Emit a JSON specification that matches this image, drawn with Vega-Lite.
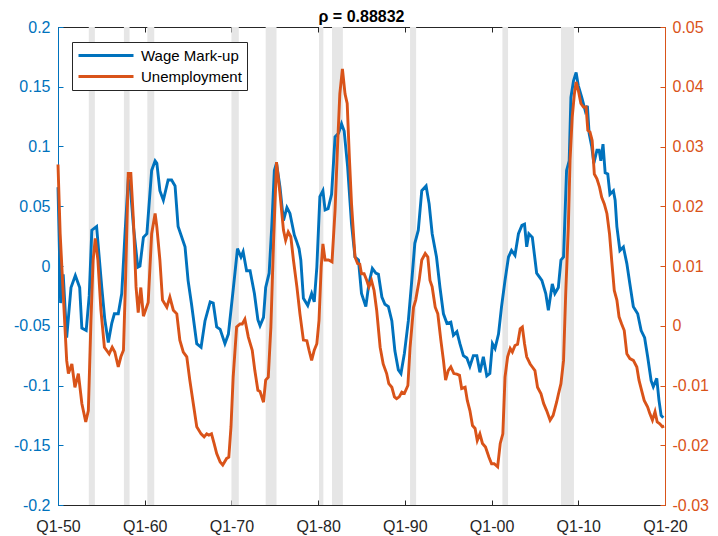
{
  "$schema": "https://vega.github.io/schema/vega-lite/v6.json",
  "width": 607,
  "height": 478,
  "autosize": {"type": "none"},
  "padding": {"left": 58, "top": 27, "right": 53, "bottom": 31},
  "background": "white",
  "title": {"text": "ρ = 0.88832", "fontSize": 16, "fontWeight": "bold", "font": "Liberation Sans", "color": "#000000", "anchor": "middle", "offset": -6},
  "config": {
    "font": "Liberation Sans",
    "view": {"stroke": null},
    "axis": {"grid": false, "labelFont": "Liberation Sans", "labelFontSize": 16, "domainWidth": 1, "tickWidth": 1, "zindex": 1}
  },
  "datasets": {
    "rec": [
      {"s": 1953.55, "e": 1954.25}, {"s": 1957.6, "e": 1958.25}, {"s": 1960.3, "e": 1961.1},
      {"s": 1970.0, "e": 1970.85}, {"s": 1973.95, "e": 1975.2}, {"s": 1980.1, "e": 1980.6},
      {"s": 1981.6, "e": 1982.85}, {"s": 1990.6, "e": 1991.3}, {"s": 2001.25, "e": 2001.9},
      {"s": 2008.0, "e": 2009.5}
    ],
    "wage": [
      {"t":1950.0,"v":0.066},{"t":1950.3,"v":-0.031},{"t":1950.6,"v":-0.007},{"t":1951.0,"v":-0.060},{"t":1951.5,"v":-0.018},{"t":1952.0,"v":-0.008},{"t":1952.5,"v":-0.018},{"t":1952.75,"v":-0.052},{"t":1953.25,"v":-0.054},{"t":1953.6,"v":-0.025},{"t":1953.9,"v":0.030},{"t":1954.45,"v":0.033},{"t":1955.05,"v":-0.018},{"t":1955.4,"v":-0.045},{"t":1955.8,"v":-0.064},{"t":1956.2,"v":-0.048},{"t":1956.5,"v":-0.040},{"t":1956.95,"v":-0.040},{"t":1957.35,"v":-0.023},{"t":1957.75,"v":0.030},{"t":1958.1,"v":0.072},{"t":1958.3,"v":0.070},{"t":1958.7,"v":0.033},{"t":1959.2,"v":-0.001},{"t":1959.45,"v":0.000},{"t":1959.85,"v":0.024},{"t":1960.25,"v":0.027},{"t":1960.8,"v":0.080},{"t":1961.2,"v":0.088},{"t":1961.4,"v":0.086},{"t":1961.75,"v":0.063},{"t":1962.15,"v":0.055},{"t":1962.7,"v":0.072},{"t":1963.1,"v":0.072},{"t":1963.5,"v":0.067},{"t":1963.85,"v":0.033},{"t":1964.65,"v":0.016},{"t":1965.0,"v":-0.012},{"t":1965.4,"v":-0.032},{"t":1966.0,"v":-0.065},{"t":1966.5,"v":-0.068},{"t":1966.95,"v":-0.046},{"t":1967.55,"v":-0.030},{"t":1967.9,"v":-0.031},{"t":1968.3,"v":-0.051},{"t":1968.7,"v":-0.053},{"t":1969.25,"v":-0.065},{"t":1969.65,"v":-0.057},{"t":1970.2,"v":-0.020},{"t":1970.7,"v":0.0145},{"t":1971.1,"v":0.0075},{"t":1971.35,"v":0.012},{"t":1971.75,"v":-0.004},{"t":1972.15,"v":-0.004},{"t":1972.65,"v":-0.023},{"t":1973.05,"v":-0.045},{"t":1973.3,"v":-0.050},{"t":1973.7,"v":-0.043},{"t":1973.95,"v":-0.018},{"t":1974.35,"v":-0.006},{"t":1974.65,"v":0.033},{"t":1974.95,"v":0.080},{"t":1975.2,"v":0.086},{"t":1975.6,"v":0.066},{"t":1976.0,"v":0.038},{"t":1976.4,"v":0.049},{"t":1976.75,"v":0.044},{"t":1977.25,"v":0.026},{"t":1977.5,"v":0.021},{"t":1977.8,"v":0.0145},{"t":1978.0,"v":0.005},{"t":1978.3,"v":-0.027},{"t":1978.8,"v":-0.033},{"t":1979.25,"v":-0.023},{"t":1979.55,"v":-0.030},{"t":1979.85,"v":-0.001},{"t":1980.2,"v":0.058},{"t":1980.55,"v":0.063},{"t":1980.8,"v":0.047},{"t":1981.15,"v":0.048},{"t":1981.55,"v":0.060},{"t":1981.95,"v":0.108},{"t":1982.35,"v":0.111},{"t":1982.7,"v":0.119},{"t":1983.0,"v":0.113},{"t":1983.4,"v":0.083},{"t":1983.85,"v":0.035},{"t":1984.25,"v":0.0075},{"t":1984.65,"v":0.005},{"t":1985.0,"v":-0.023},{"t":1985.5,"v":-0.034},{"t":1985.85,"v":-0.015},{"t":1986.25,"v":-0.002},{"t":1986.65,"v":-0.006},{"t":1986.95,"v":-0.007},{"t":1987.35,"v":-0.026},{"t":1987.7,"v":-0.032},{"t":1988.1,"v":-0.034},{"t":1988.5,"v":-0.046},{"t":1988.85,"v":-0.071},{"t":1989.25,"v":-0.087},{"t":1989.55,"v":-0.090},{"t":1989.95,"v":-0.073},{"t":1990.4,"v":-0.046},{"t":1990.8,"v":-0.012},{"t":1991.15,"v":0.019},{"t":1991.55,"v":0.030},{"t":1991.95,"v":0.063},{"t":1992.45,"v":0.067},{"t":1992.8,"v":0.052},{"t":1993.15,"v":0.027},{"t":1993.65,"v":0.0075},{"t":1994.05,"v":-0.018},{"t":1994.45,"v":-0.040},{"t":1994.85,"v":-0.048},{"t":1995.3,"v":-0.047},{"t":1995.6,"v":-0.058},{"t":1996.0,"v":-0.055},{"t":1996.35,"v":-0.065},{"t":1996.75,"v":-0.075},{"t":1997.15,"v":-0.077},{"t":1997.5,"v":-0.084},{"t":1997.9,"v":-0.075},{"t":1998.3,"v":-0.075},{"t":1998.65,"v":-0.089},{"t":1999.05,"v":-0.076},{"t":1999.45,"v":-0.092},{"t":1999.8,"v":-0.090},{"t":2000.1,"v":-0.065},{"t":2000.4,"v":-0.069},{"t":2000.8,"v":-0.057},{"t":2001.15,"v":-0.034},{"t":2001.55,"v":-0.012},{"t":2001.95,"v":0.0075},{"t":2002.3,"v":0.013},{"t":2002.7,"v":0.009},{"t":2003.1,"v":0.027},{"t":2003.5,"v":0.034},{"t":2003.8,"v":0.035},{"t":2004.05,"v":0.016},{"t":2004.3,"v":0.027},{"t":2004.7,"v":0.024},{"t":2005.2,"v":-0.006},{"t":2005.8,"v":-0.012},{"t":2006.25,"v":-0.023},{"t":2006.55,"v":-0.037},{"t":2007.0,"v":-0.015},{"t":2007.3,"v":-0.023},{"t":2007.7,"v":-0.018},{"t":2008.0,"v":0.005},{"t":2008.3,"v":0.0075},{"t":2008.65,"v":0.080},{"t":2008.95,"v":0.088},{"t":2009.15,"v":0.141},{"t":2009.45,"v":0.155},{"t":2009.75,"v":0.162},{"t":2010.0,"v":0.151},{"t":2010.4,"v":0.141},{"t":2010.8,"v":0.130},{"t":2011.05,"v":0.134},{"t":2011.25,"v":0.111},{"t":2011.55,"v":0.100},{"t":2011.8,"v":0.086},{"t":2012.15,"v":0.097},{"t":2012.4,"v":0.097},{"t":2012.6,"v":0.088},{"t":2012.85,"v":0.102},{"t":2013.1,"v":0.078},{"t":2013.4,"v":0.077},{"t":2013.65,"v":0.060},{"t":2014.05,"v":0.063},{"t":2014.25,"v":0.055},{"t":2014.45,"v":0.033},{"t":2014.8,"v":0.013},{"t":2015.2,"v":0.016},{"t":2015.6,"v":0.002},{"t":2015.95,"v":-0.015},{"t":2016.35,"v":-0.034},{"t":2016.85,"v":-0.040},{"t":2017.25,"v":-0.054},{"t":2017.65,"v":-0.060},{"t":2018.0,"v":-0.076},{"t":2018.4,"v":-0.096},{"t":2018.65,"v":-0.101},{"t":2019.05,"v":-0.094},{"t":2019.3,"v":-0.112},{"t":2019.55,"v":-0.125},{"t":2019.8,"v":-0.127}
    ],
    "unemp": [
      {"t":1950.0,"v":0.027},{"t":1950.25,"v":0.0154},{"t":1950.6,"v":0.0054},{"t":1951.0,"v":-0.0058},{"t":1951.2,"v":-0.0080},{"t":1951.6,"v":-0.0064},{"t":1951.95,"v":-0.0103},{"t":1952.35,"v":-0.0080},{"t":1952.75,"v":-0.0130},{"t":1953.2,"v":-0.0161},{"t":1953.5,"v":-0.0142},{"t":1953.8,"v":0.0009},{"t":1954.05,"v":0.0110},{"t":1954.3,"v":0.0146},{"t":1954.6,"v":0.0110},{"t":1954.95,"v":0.0026},{"t":1955.35,"v":-0.0036},{"t":1955.9,"v":-0.0047},{"t":1956.25,"v":-0.0036},{"t":1956.55,"v":-0.0044},{"t":1956.95,"v":-0.0069},{"t":1957.25,"v":-0.0052},{"t":1957.55,"v":-0.0041},{"t":1957.8,"v":0.0082},{"t":1958.1,"v":0.0255},{"t":1958.4,"v":0.0255},{"t":1958.7,"v":0.0176},{"t":1959.0,"v":0.0065},{"t":1959.25,"v":0.0022},{"t":1959.55,"v":0.0064},{"t":1959.85,"v":0.0016},{"t":1960.4,"v":0.0039},{"t":1960.8,"v":0.0154},{"t":1961.2,"v":0.0188},{"t":1961.4,"v":0.0165},{"t":1961.75,"v":0.0110},{"t":1962.05,"v":0.0043},{"t":1962.55,"v":0.0031},{"t":1962.9,"v":0.0048},{"t":1963.3,"v":0.0026},{"t":1963.7,"v":0.0020},{"t":1964.05,"v":-0.0024},{"t":1964.45,"v":-0.0044},{"t":1964.85,"v":-0.0052},{"t":1965.2,"v":-0.0091},{"t":1965.6,"v":-0.0130},{"t":1966.0,"v":-0.0169},{"t":1966.5,"v":-0.0181},{"t":1966.85,"v":-0.0186},{"t":1967.15,"v":-0.0181},{"t":1967.4,"v":-0.0183},{"t":1967.7,"v":-0.0181},{"t":1968.0,"v":-0.0197},{"t":1968.3,"v":-0.0214},{"t":1968.7,"v":-0.0228},{"t":1969.0,"v":-0.0233},{"t":1969.45,"v":-0.0222},{"t":1969.7,"v":-0.0220},{"t":1969.95,"v":-0.0169},{"t":1970.2,"v":-0.0086},{"t":1970.6,"v":-0.0002},{"t":1971.0,"v":0.0003},{"t":1971.25,"v":0.0003},{"t":1971.55,"v":0.0011},{"t":1971.95,"v":-0.0019},{"t":1972.4,"v":-0.0041},{"t":1972.7,"v":-0.0075},{"t":1973.05,"v":-0.0108},{"t":1973.3,"v":-0.0110},{"t":1973.7,"v":-0.0128},{"t":1973.95,"v":-0.0091},{"t":1974.25,"v":-0.0086},{"t":1974.55,"v":-0.0002},{"t":1974.85,"v":0.0137},{"t":1975.2,"v":0.0274},{"t":1975.6,"v":0.0221},{"t":1976.0,"v":0.0160},{"t":1976.25,"v":0.0143},{"t":1976.55,"v":0.0157},{"t":1976.85,"v":0.0149},{"t":1977.15,"v":0.0110},{"t":1977.55,"v":0.0065},{"t":1977.9,"v":0.0020},{"t":1978.3,"v":-0.0024},{"t":1978.7,"v":-0.0025},{"t":1978.95,"v":-0.0041},{"t":1979.25,"v":-0.0058},{"t":1979.55,"v":-0.0041},{"t":1979.85,"v":-0.0030},{"t":1980.1,"v":0.0009},{"t":1980.35,"v":0.0098},{"t":1980.55,"v":0.0137},{"t":1980.8,"v":0.0110},{"t":1981.2,"v":0.0110},{"t":1981.6,"v":0.0107},{"t":1981.95,"v":0.0193},{"t":1982.25,"v":0.0305},{"t":1982.5,"v":0.0388},{"t":1982.8,"v":0.0430},{"t":1983.1,"v":0.0388},{"t":1983.35,"v":0.0372},{"t":1983.6,"v":0.0282},{"t":1983.85,"v":0.0204},{"t":1984.25,"v":0.0115},{"t":1984.55,"v":0.0104},{"t":1984.8,"v":0.0103},{"t":1985.0,"v":0.0087},{"t":1985.3,"v":0.0087},{"t":1985.6,"v":0.0076},{"t":1985.85,"v":0.0065},{"t":1986.15,"v":0.0076},{"t":1986.45,"v":0.0059},{"t":1986.75,"v":0.0026},{"t":1987.15,"v":-0.0036},{"t":1987.5,"v":-0.0064},{"t":1987.9,"v":-0.0080},{"t":1988.15,"v":-0.0097},{"t":1988.5,"v":-0.0103},{"t":1988.8,"v":-0.0119},{"t":1989.05,"v":-0.0122},{"t":1989.35,"v":-0.0119},{"t":1989.65,"v":-0.0111},{"t":1989.95,"v":-0.0113},{"t":1990.35,"v":-0.0100},{"t":1990.6,"v":-0.0036},{"t":1991.0,"v":0.0031},{"t":1991.25,"v":0.0043},{"t":1991.65,"v":0.0076},{"t":1991.95,"v":0.0110},{"t":1992.35,"v":0.0121},{"t":1992.65,"v":0.0115},{"t":1992.9,"v":0.0076},{"t":1993.15,"v":0.0065},{"t":1993.5,"v":0.0031},{"t":1993.8,"v":0.0020},{"t":1994.15,"v":-0.0024},{"t":1994.45,"v":-0.0058},{"t":1994.7,"v":-0.0091},{"t":1995.0,"v":-0.0075},{"t":1995.3,"v":-0.0069},{"t":1995.65,"v":-0.0080},{"t":1996.0,"v":-0.0081},{"t":1996.3,"v":-0.0083},{"t":1996.55,"v":-0.0105},{"t":1996.95,"v":-0.0103},{"t":1997.2,"v":-0.0125},{"t":1997.5,"v":-0.0142},{"t":1997.8,"v":-0.0167},{"t":1998.1,"v":-0.0172},{"t":1998.35,"v":-0.0192},{"t":1998.65,"v":-0.0181},{"t":1998.95,"v":-0.0197},{"t":1999.3,"v":-0.0203},{"t":1999.7,"v":-0.0220},{"t":2000.0,"v":-0.0231},{"t":2000.3,"v":-0.0231},{"t":2000.7,"v":-0.0236},{"t":2001.0,"v":-0.0197},{"t":2001.3,"v":-0.0181},{"t":2001.55,"v":-0.0086},{"t":2001.85,"v":-0.0052},{"t":2002.15,"v":-0.0038},{"t":2002.4,"v":-0.0044},{"t":2002.7,"v":-0.0033},{"t":2003.0,"v":-0.0031},{"t":2003.3,"v":-0.0005},{"t":2003.55,"v":-0.0002},{"t":2003.8,"v":-0.0030},{"t":2004.05,"v":-0.0052},{"t":2004.45,"v":-0.0064},{"t":2004.7,"v":-0.0069},{"t":2005.0,"v":-0.0075},{"t":2005.3,"v":-0.0103},{"t":2005.7,"v":-0.0114},{"t":2006.0,"v":-0.0130},{"t":2006.35,"v":-0.0142},{"t":2006.75,"v":-0.0158},{"t":2007.1,"v":-0.0150},{"t":2007.5,"v":-0.0128},{"t":2007.7,"v":-0.0115},{"t":2008.0,"v":-0.0097},{"t":2008.3,"v":-0.0058},{"t":2008.55,"v":0.0054},{"t":2008.85,"v":0.0165},{"t":2009.05,"v":0.0277},{"t":2009.3,"v":0.0349},{"t":2009.55,"v":0.0388},{"t":2009.75,"v":0.0408},{"t":2010.0,"v":0.0394},{"t":2010.3,"v":0.0372},{"t":2010.6,"v":0.0366},{"t":2010.9,"v":0.0366},{"t":2011.1,"v":0.0327},{"t":2011.35,"v":0.0324},{"t":2011.6,"v":0.0310},{"t":2011.85,"v":0.0254},{"t":2012.15,"v":0.0246},{"t":2012.45,"v":0.0232},{"t":2012.7,"v":0.0215},{"t":2013.0,"v":0.0204},{"t":2013.3,"v":0.0188},{"t":2013.6,"v":0.0154},{"t":2013.85,"v":0.0110},{"t":2014.15,"v":0.0059},{"t":2014.45,"v":0.0043},{"t":2014.7,"v":0.0015},{"t":2015.0,"v":0.0003},{"t":2015.3,"v":-0.0008},{"t":2015.6,"v":-0.0047},{"t":2015.95,"v":-0.0055},{"t":2016.35,"v":-0.0058},{"t":2016.75,"v":-0.0069},{"t":2017.0,"v":-0.0091},{"t":2017.3,"v":-0.0108},{"t":2017.6,"v":-0.0125},{"t":2018.0,"v":-0.0136},{"t":2018.25,"v":-0.0147},{"t":2018.55,"v":-0.0158},{"t":2018.85,"v":-0.0144},{"t":2019.1,"v":-0.0161},{"t":2019.4,"v":-0.0164},{"t":2019.7,"v":-0.0169},{"t":2019.9,"v":-0.0168}
    ]
  },
  "layer": [
    {
      "data": {"name": "rec"},
      "mark": {"type": "rect", "color": "#e6e6e6", "clip": true},
      "encoding": {
        "x": {"field": "s", "type": "quantitative", "scale": {"domain": [1950, 2020], "nice": false, "zero": false}, "axis": null},
        "x2": {"field": "e"},
        "y": {"datum": 0, "type": "quantitative", "scale": {"domain": [0, 1], "nice": false}, "axis": null},
        "y2": {"datum": 1}
      }
    },
    {
      "data": {"name": "wage"},
      "mark": {"type": "line", "strokeWidth": 2.9, "interpolate": "linear"},
      "encoding": {
        "x": {"field": "t", "type": "quantitative", "scale": {"domain": [1950, 2020], "nice": false, "zero": false},
          "axis": {"orient": "bottom", "title": null, "values": [1950, 1960, 1970, 1980, 1990, 2000, 2010, 2020],
            "labelExpr": "'Q1-' + slice(toString(datum.value), 2)", "labelColor": "#262626", "domainColor": "#262626", "tickColor": "#262626",
            "tickSize": -5, "labelPadding": 18, "labelFlush": false}},
        "y": {"field": "v", "type": "quantitative", "scale": {"domain": [-0.2, 0.2], "nice": false, "zero": false},
          "axis": {"orient": "left", "title": null, "values": [-0.2, -0.15, -0.1, -0.05, 0, 0.05, 0.1, 0.15, 0.2],
            "labelExpr": "toString(datum.value)", "labelColor": "#0072BD", "domainColor": "#0072BD", "tickColor": "#0072BD",
            "tickSize": -5, "labelPadding": 13, "labelFlush": false}},
        "color": {"datum": "Wage Mark-up", "type": "nominal",
          "scale": {"domain": ["Wage Mark-up", "Unemployment"], "range": ["#0072BD", "#D95319"]},
          "legend": {"orient": "none", "legendX": 14, "legendY": 15, "title": null, "symbolType": "stroke", "symbolSize": 3025,
            "symbolStrokeWidth": 3, "labelFontSize": 15, "labelFont": "Liberation Sans", "labelColor": "#000000",
            "strokeColor": "#262626", "fillColor": "#ffffff", "padding": 5, "labelOffset": 6, "rowPadding": 4, "clipHeight": 17}}
      }
    },
    {
      "data": {"name": "unemp"},
      "mark": {"type": "line", "strokeWidth": 2.9, "interpolate": "linear"},
      "encoding": {
        "x": {"field": "t", "type": "quantitative", "scale": {"domain": [1950, 2020], "nice": false, "zero": false},
          "axis": {"orient": "top", "title": null, "values": [1950, 1960, 1970, 1980, 1990, 2000, 2010, 2020], "labels": false,
            "domainColor": "#262626", "tickColor": "#262626", "tickSize": -5}},
        "y": {"field": "v", "type": "quantitative", "scale": {"domain": [-0.03, 0.05], "nice": false, "zero": false},
          "axis": {"orient": "right", "title": null, "values": [-0.03, -0.02, -0.01, 0, 0.01, 0.02, 0.03, 0.04, 0.05],
            "labelExpr": "toString(datum.value)", "labelColor": "#D95319", "domainColor": "#D95319", "tickColor": "#D95319",
            "tickSize": -5, "labelPadding": 12, "labelFlush": false}},
        "color": {"datum": "Unemployment", "type": "nominal"}
      }
    }
  ],
  "resolve": {"scale": {"y": "independent"}, "axis": {"x": "independent", "y": "independent"}}
}
